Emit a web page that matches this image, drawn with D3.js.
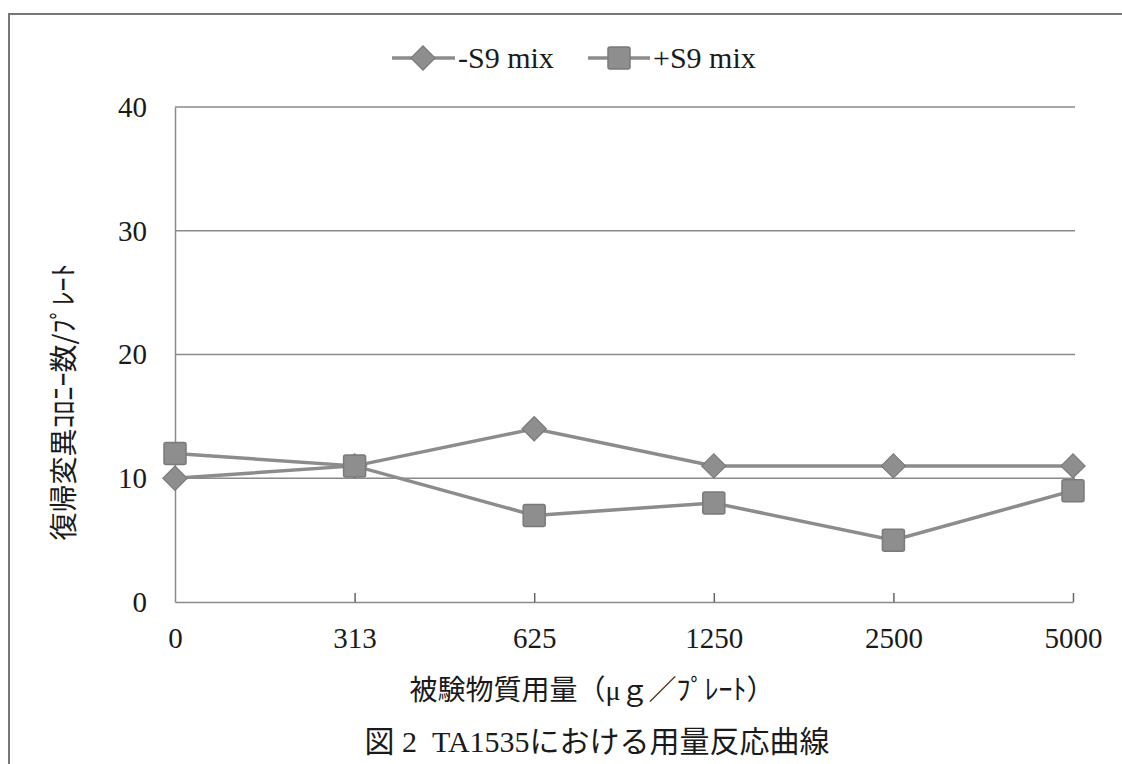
<!DOCTYPE html>
<html><head><meta charset="utf-8">
<script src="https://cdn.jsdelivr.net/npm/d3@7"></script>
<style>
html,body{margin:0;padding:0;background:#fff;}
svg{display:block;}
text{font-family:"Liberation Serif","Noto Sans CJK JP",serif;fill:#1a1a1a;}
</style></head>
<body>
<svg id="c" width="1122" height="764"></svg>
<script>
const categories = ["0","313","625","1250","2500","5000"];
const minusS9 = [10, 11, 14, 11, 11, 11];
const plusS9 = [12, 11, 7, 8, 5, 9];
const yTicks = [0, 10, 20, 30, 40];
const seriesNames = ["-S9 mix", "+S9 mix"];
const yTitle = "復帰変異ｺﾛﾆｰ数/ﾌﾟﾚｰﾄ";
const xTitle = "被験物質用量（μｇ／ﾌﾟﾚｰﾄ）";
const caption = "図 2  TA1535における用量反応曲線";

const svg = d3.select("#c");
const m = {left:175, right:1073, top:107, bottom:602};

// outer frame
svg.append("path").attr("d", `M9,764 L9,14 L1122,14`)
  .attr("fill","none").attr("stroke","#777").attr("stroke-width",2);

const x = d3.scalePoint().domain(categories).range([m.left, m.right]);
const y = d3.scaleLinear().domain([0,40]).range([m.bottom, m.top]);

// gridlines
svg.append("g").selectAll("line").data(yTicks.filter(d=>d>0)).join("line")
  .attr("x1", m.left).attr("x2", m.right+2)
  .attr("y1", d=>y(d)).attr("y2", d=>y(d))
  .attr("stroke","#8a8a8a").attr("stroke-width",1.5);

// y axis
const ya = svg.append("g").attr("transform",`translate(${m.left},0)`)
  .call(d3.axisLeft(y).tickValues(yTicks).tickSize(0).tickPadding(28));
ya.select(".domain").attr("stroke","#8a8a8a").attr("stroke-width",1.5);
ya.selectAll("text").attr("font-size",29).style("font-family",'"Liberation Serif",serif').attr("fill","#1a1a1a");

// x axis
const xa = svg.append("g").attr("transform",`translate(0,${m.bottom})`)
  .call(d3.axisBottom(x).tickSizeInner(-9).tickSizeOuter(0).tickPadding(25));
xa.select(".domain").attr("stroke","#8a8a8a").attr("stroke-width",1.5);
xa.selectAll(".tick line").attr("stroke","#666").attr("stroke-width",1.5)
  .attr("display",(d,i)=>i===0?"none":null);
xa.selectAll("text").attr("font-size",29).style("font-family",'"Liberation Serif",serif').attr("fill","#1a1a1a");

const line = d3.line().x((d,i)=>x(categories[i])).y(d=>y(d));
const lineCol = "#8c8c8c", markFill = "#8e8e8e", markStroke = "#7a7a7a";

// series lines
[minusS9, plusS9].forEach(s=>{
  svg.append("path").datum(s).attr("d", line)
    .attr("fill","none").attr("stroke",lineCol).attr("stroke-width",3.5);
});

function drawDiamond(g, cx, cy){
  g.append("rect").attr("x",cx-11).attr("y",cy-11).attr("width",22).attr("height",22)
   .attr("transform",`translate(${cx},${cy}) scale(0.78,0.78) rotate(45) translate(${-cx},${-cy})`)
   .attr("fill",markFill).attr("stroke",markStroke).attr("stroke-width",1.5);
}
function drawSquare(g, cx, cy){
  g.append("rect").attr("x",cx-11).attr("y",cy-11).attr("width",22).attr("height",22).attr("rx",2)
   .attr("fill",markFill).attr("stroke",markStroke).attr("stroke-width",1.5);
}
const mg = svg.append("g");
minusS9.forEach((v,i)=>drawDiamond(mg, x(categories[i]), y(v)));
plusS9.forEach((v,i)=>drawSquare(mg, x(categories[i]), y(v)));

// legend
const lg = svg.append("g");
const legY = 58;
[[392,455,423,0],[588,650,619,1]].forEach(([a,b,c,k])=>{
  lg.append("line").attr("x1",a).attr("x2",b).attr("y1",legY).attr("y2",legY)
    .attr("stroke",lineCol).attr("stroke-width",3.5);
  if(k===0) drawDiamond(lg,c,legY); else drawSquare(lg,c,legY);
  lg.append("text").attr("x",b+3).attr("y",legY+10).attr("font-size",30).text(seriesNames[k]);
});

// titles
svg.append("text").attr("transform",`translate(64,402) rotate(-90)`)
  .attr("text-anchor","middle").attr("font-size",28).attr("dy","0.35em")
  .style("font-family",'"Noto Sans CJK JP",sans-serif').text(yTitle);
svg.append("text").attr("x",592).attr("y",700).attr("text-anchor","middle")
  .attr("font-size",28).style("font-family",'"Liberation Serif","Noto Sans CJK JP",serif').text(xTitle);
svg.append("text").attr("x",597).attr("y",752).attr("text-anchor","middle")
  .attr("font-size",30).style("white-space","pre").text(caption);
</script>
</body></html>
